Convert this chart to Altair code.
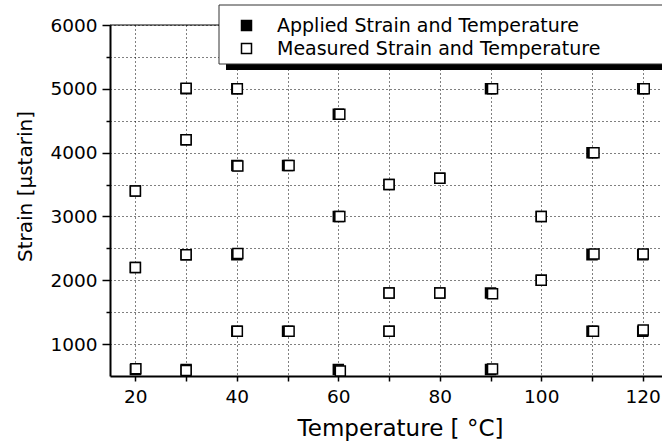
import altair as alt
import pandas as pd

series_names = ["Applied Strain and Temperature", "Measured Strain and Temperature"]

applied_temp = [20, 20, 20, 30, 30, 30, 30, 40, 40, 40, 40, 50, 50, 60, 60, 60,
                70, 70, 70, 80, 80, 90, 90, 90, 100, 100, 110, 110, 110, 120, 120, 120]
applied_strain = [3400, 2200, 600, 5000, 4200, 2400, 600, 5000, 3800, 2400, 1200, 3800, 1200, 4600, 3000, 600,
                  3500, 1800, 1200, 3600, 1800, 5000, 1800, 600, 3000, 2000, 4000, 2400, 1200, 5000, 2400, 1200]

measured_temp = [20.0, 20.0, 20.1, 30.0, 30.0, 30.0, 30.0, 40.1, 40.2, 40.2, 40.1, 50.3, 50.3, 60.3, 60.3, 60.4,
                 70.0, 70.0, 70.0, 80.0, 80.0, 90.4, 90.4, 90.4, 100.0, 100.0, 110.4, 110.4, 110.3, 120.3, 120.1, 120.1]
measured_strain = [3400, 2200, 615, 5010, 4200, 2400, 585, 5000, 3790, 2420, 1200, 3800, 1200, 4600, 3000, 580,
                   3500, 1800, 1200, 3600, 1800, 5000, 1790, 610, 3000, 2000, 4000, 2410, 1200, 5000, 2410, 1220]

x_ticks = [20, 30, 40, 50, 60, 70, 80, 90, 100, 110, 120]
y_ticks = [1000, 1500, 2000, 2500, 3000, 3500, 4000, 4500, 5000, 5500, 6000]

df = pd.concat([
    pd.DataFrame({"temp": applied_temp, "strain": applied_strain,
                  "series": series_names[0], "order": 0}),
    pd.DataFrame({"temp": measured_temp, "strain": measured_strain,
                  "series": series_names[1], "order": 1}),
], ignore_index=True)

FONT = "DejaVu Sans"
W, H = 552, 351

points = alt.Chart(df).mark_point(
    shape="square", filled=True, size=100, stroke="black", strokeWidth=1.5, opacity=1
).encode(
    x=alt.X("temp:Q", scale=alt.Scale(domain=[15, 123.8], nice=False, zero=False),
            axis=alt.Axis(values=x_ticks,
                          labelExpr="datum.value % 20 == 0 ? datum.label : ''",
                          tickSize=5, labelPadding=6,
                          title="Temperature [ °C]", titleX=290, titleY=52,
                          titleBaseline="middle", titleAlign="center",
                          titleFontSize=23)),
    y=alt.Y("strain:Q", scale=alt.Scale(domain=[500, 6000], nice=False, zero=False),
            axis=alt.Axis(values=y_ticks, format="d",
                          labelExpr="datum.value % 1000 == 0 ? datum.label : ''",
                          tickSize={"condition": {"test": "datum.value % 1000 == 0", "value": 8}, "value": 4},
                          labelPadding=5,
                          title="Strain [µstarin]", titleX=-85, titleY=161, titleAngle=-90,
                          titleBaseline="middle", titleAlign="center",
                          titleFontSize=20)),
    fill=alt.Fill("series:N", scale=alt.Scale(domain=series_names, range=["black", "white"]),
                  legend=alt.Legend(title=None, orient="none", legendX=127, legendY=-9,
                                    padding=0, symbolOffset=0, labelOffset=21, rowPadding=3,
                                    symbolType="square", symbolSize=100,
                                    symbolStrokeColor="black", symbolStrokeWidth=1.5,
                                    labelFont=FONT, labelFontSize=19, labelLimit=800,
                                    labelColor="black")),
    order=alt.Order("order:Q"),
)

deco = alt.Data(values=[{"k": 1}])
shadow = alt.Chart(deco).mark_rect(color="black").encode(
    x=alt.value(116), x2=alt.value(W + 40), y=alt.value(-13), y2=alt.value(45)
)
legend_box = alt.Chart(deco).mark_rect(fill="white", stroke="#333333", strokeWidth=1).encode(
    x=alt.value(109), x2=alt.value(W + 40), y=alt.value(-20), y2=alt.value(39)
)
frame = alt.Chart(deco).mark_rule(color="black", strokeWidth=1).encode(
    x=alt.value(0), x2=alt.value(109), y=alt.value(0)
)

chart = alt.layer(shadow, legend_box, frame, points).properties(
    width=W, height=H,
    autosize=alt.AutoSizeParams(type="none"),
    padding={"left": 110, "top": 25, "right": 0, "bottom": 66},
).configure_view(stroke=None).configure_axis(
    labelFont=FONT, labelFontSize=18.5, labelColor="black",
    titleFont=FONT, titleColor="black", titleFontWeight="normal",
    domainColor="black", domainWidth=2,
    tickColor="black", tickWidth=1.5,
    grid=True, gridColor="black", gridDash=[1, 3], gridWidth=1, gridOpacity=1,
)

chart.save("out.html", embed_options={"renderer": "svg", "actions": False})
